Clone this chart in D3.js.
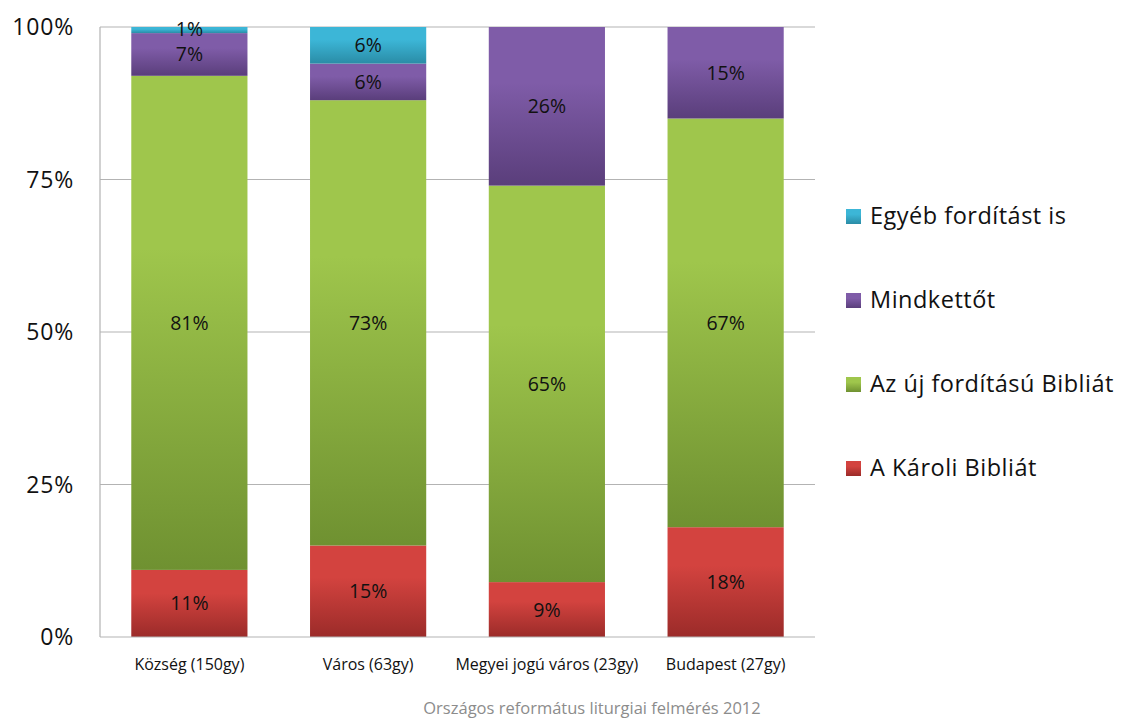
<!DOCTYPE html>
<html><head><meta charset="utf-8">
<script src="https://cdn.jsdelivr.net/npm/d3@7"></script>
<style>body{margin:0;background:#fff;}svg{display:block;font-family:"Open Sans","Noto Sans",sans-serif;}</style>
</head><body><div id="chart"></div>
<script>
const categories = ["Község (150gy)", "Város (63gy)", "Megyei jogú város (23gy)", "Budapest (27gy)"];
const seriesNames = ["A Károli Bibliát", "Az új fordítású Bibliát", "Mindkettőt", "Egyéb fordítást is"];
const karoli = [11, 15, 9, 18];
const uj = [81, 73, 65, 67];
const mindketto = [7, 6, 26, 15];
const egyeb = [1, 6, 0, 0];
const yTicks = [0, 25, 50, 75, 100];
const footer = "Országos református liturgiai felmérés 2012";

const colors = [
  ["#d3433f", "#9b2b29"],
  ["#9fc64c", "#6f9131"],
  ["#7f5ca8", "#5a3e7b"],
  ["#3cb6d7", "#2a8ca6"]
];

const W = 1132, H = 718;
const m = {left: 100, right: 317, top: 27, bottom: 81};
const svg = d3.select("#chart").append("svg").attr("width", W).attr("height", H);
const defs = svg.append("defs");
colors.forEach((c, i) => {
  const g = defs.append("linearGradient").attr("id", "g" + i).attr("x1", 0).attr("y1", 0).attr("x2", 0).attr("y2", 1);
  g.append("stop").attr("offset", "0%").attr("stop-color", c[0]);
  g.append("stop").attr("offset", "35%").attr("stop-color", c[0]);
  g.append("stop").attr("offset", "100%").attr("stop-color", c[1]);
});

const x = d3.scaleBand().domain(categories).range([m.left, W - m.right]).paddingInner(0.35).paddingOuter(0.175);
const y = d3.scaleLinear().domain([0, 100]).range([H - m.bottom, m.top]);

const data = categories.map((c, i) => ({cat: c, s0: karoli[i], s1: uj[i], s2: mindketto[i], s3: egyeb[i]}));
const stack = d3.stack().keys(["s0", "s1", "s2", "s3"]);
const layers = stack(data);

// gridlines
svg.append("g").selectAll("line").data(yTicks.filter(t => t > 0)).join("line")
  .attr("x1", m.left).attr("x2", W - m.right)
  .attr("y1", d => y(d)).attr("y2", d => y(d))
  .attr("stroke", "#b3b3b3").attr("stroke-width", 1.2);

// bars
layers.forEach((layer, li) => {
  const g = svg.append("g");
  g.selectAll("rect").data(layer.filter(d => d[1] - d[0] > 0)).join("rect")
    .attr("x", d => x(d.data.cat))
    .attr("width", x.bandwidth())
    .attr("y", d => y(d[1]))
    .attr("height", d => y(d[0]) - y(d[1]))
    .attr("fill", `url(#g${li})`);
});
// labels
layers.forEach((layer, li) => {
  svg.append("g").selectAll("text").data(layer.filter(d => d[1] - d[0] > 0)).join("text")
    .attr("x", d => x(d.data.cat) + x.bandwidth() / 2)
    .attr("y", d => (y(d[0]) + y(d[1])) / 2 + (d[1] - d[0] < 3 ? -1.5 : 0))
    .attr("dy", "0.36em")
    .attr("text-anchor", "middle")
    .attr("font-size", 19.5)
    .attr("fill", "#111")
    .text(d => (d[1] - d[0]) + "%");
});

// axes lines
svg.append("line").attr("x1", m.left).attr("x2", m.left).attr("y1", y(100)).attr("y2", y(0)).attr("stroke", "#b3b3b3").attr("stroke-width", 1.2);
svg.append("line").attr("x1", m.left).attr("x2", W - m.right).attr("y1", y(0)).attr("y2", y(0)).attr("stroke", "#b3b3b3").attr("stroke-width", 1.2);

// y labels
svg.append("g").selectAll("text").data(yTicks).join("text")
  .attr("x", 74).attr("y", d => y(d)).attr("dy", "0.36em")
  .attr("text-anchor", "end").attr("font-size", 23).attr("letter-spacing", 0.8).attr("fill", "#111")
  .text(d => d + "%");

// x labels
svg.append("g").selectAll("text").data(categories).join("text")
  .attr("x", d => x(d) + x.bandwidth() / 2).attr("y", 664).attr("dy", "0.36em")
  .attr("text-anchor", "middle").attr("font-size", 16).attr("fill", "#111")
  .text(d => d);

// legend
const legendOrder = [3, 2, 1, 0];
const ly = d3.scalePoint().domain(legendOrder).range([216, 468]);
const lg = svg.append("g");
legendOrder.forEach(i => {
  lg.append("rect").attr("x", 846).attr("y", ly(i) - 7).attr("width", 15).attr("height", 15).attr("fill", `url(#g${i})`);
  lg.append("text").attr("x", 870).attr("y", ly(i)).attr("dy", "0.36em").attr("font-size", 23.5).attr("letter-spacing", 0.5).attr("fill", "#111").text(seriesNames[i]);
});

// footer
svg.append("text").attr("x", 592).attr("y", 708).attr("dy", "0.36em").attr("text-anchor", "middle")
  .attr("font-size", 16.5).attr("fill", "#8c8c8c").text(footer);
</script></body></html>
